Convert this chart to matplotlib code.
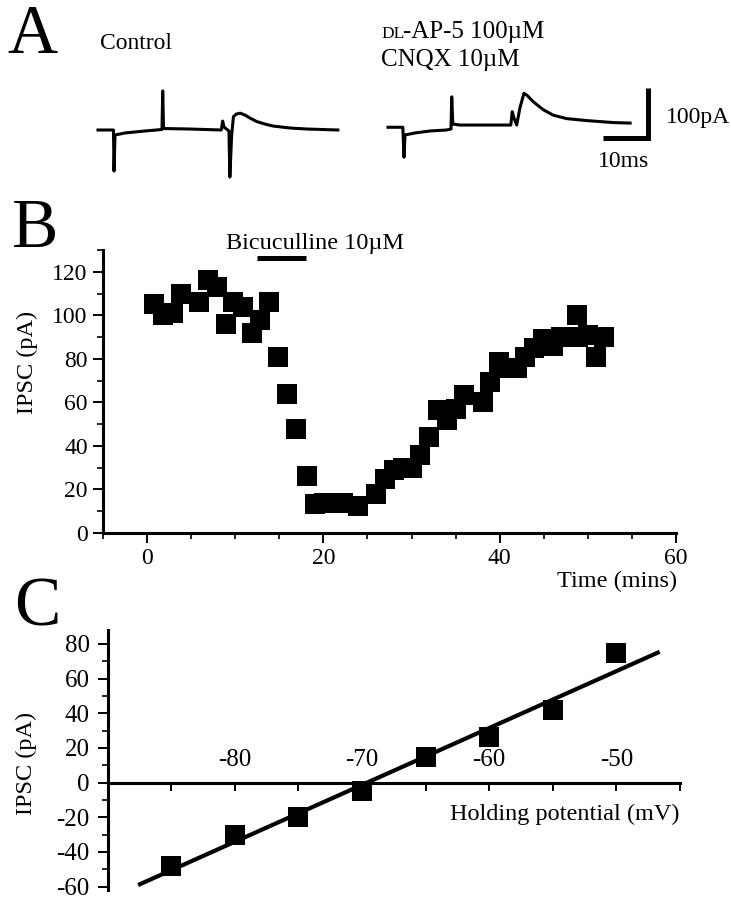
import numpy as np
import matplotlib
matplotlib.use('Agg')
import matplotlib.pyplot as plt

plt.rcParams['font.family'] = ['Liberation Serif', 'DejaVu Serif']
plt.rcParams['axes.unicode_minus'] = False

# ---- panel A: example traces (ms from trace start, pA from baseline) ----
ctrl_t = [0, 3.1, 3.44, 3.56, 3.78, 6.0, 10.4, 14.22, 14.38, 14.56, 20.4, 27.4,
          27.7, 28.0, 29.1, 29.3, 29.7, 30.1, 30.7, 31.6, 32.7, 33.8, 35.3,
          37.1, 38.9, 42.7, 46.4, 53.3]
ctrl_i = [0, 0, 0, -83, -10, -6, -2, 1, 79, 3, 2, 0,
          18, 6, -2, -95, -10, 27, 32, 34, 30, 24, 17,
          12, 8, 4, 2, 0]
drug_t = [0, 3.3, 3.56, 3.78, 6.0, 9.3, 13.0, 14.0, 14.16, 14.4, 16.0, 27.3,
          27.6, 28.0, 28.6, 29.3, 30.2, 30.9, 32.3, 34.5, 36.7, 39.7, 44.2,
          50.1, 53.8]
drug_i = [5.5, 5.5, -55, -10, -6, -2, 0, 2, 67, 12, 10, 10,
          37, 24, 10, 44, 74, 70, 57, 41, 30, 23, 19,
          15, 14]

# ---- panel B: IPSC time course ----
time_min = [0.8, 1.8, 2.9, 3.9, 5.9, 6.9, 7.9, 8.9, 9.7, 10.9, 11.9, 12.8, 13.8,
            14.9, 15.9, 16.9, 18.1, 19.0, 20.1, 21.0, 22.2, 23.9, 26.0, 27.0,
            28.0, 29.0, 30.0, 31.0, 32.0, 33.0, 34.0, 35.0, 36.0, 38.1, 38.9,
            39.9, 41.0, 42.0, 42.9, 43.9, 44.9, 46.0, 47.0, 48.8, 48.9, 50.0,
            50.9, 51.8]
ipsc_pa = [105, 100, 101, 110, 106, 116, 113, 96, 106, 104, 92, 98, 106,
           81, 64, 48, 26, 13.5, 14, 14, 14, 12.5, 18, 25,
           29, 30, 30, 36, 44, 56.5, 52, 57, 63.5, 60, 69.5,
           78.5, 76, 76, 81, 85, 89, 86, 90, 100, 90, 91,
           81, 90]
bic_start, bic_end = 12.5, 18.0

# ---- panel C: I-V relation ----
hold_mv = [-85, -80, -75, -70, -65, -60, -55, -50]
iv_pa = [-48, -30, -20, -4.8, 14.5, 26, 42, 75]

W, H = 731, 899
fig = plt.figure(figsize=(W / 100, H / 100), dpi=100)


def fx(px):
    return px / W


def fy(py):
    return 1 - py / H


# panel A: 4.5 px per ms, 0.495 px per pA
ax_a = fig.add_axes([0, fy(200), 1, 200 / H])
ax_a.axis('off')
ax_a.set_xlim(0, W / 4.5)
ax_a.set_ylim(-(200 - 130) / 0.495, 130 / 0.495)
ax_a.plot(np.array(ctrl_t) + 98 / 4.5, ctrl_i, color='black', lw=2.2,
          solid_joinstyle='round')
ax_a.plot(np.array(drug_t) + 388 / 4.5, drug_i, color='black', lw=2.2,
          solid_joinstyle='round')
# scale bar 10 ms / 100 pA
ax_a.plot([133.9, 143.9, 143.9], [-15.2, -15.2, 84.8], color='black', lw=3.6,
          solid_joinstyle='miter', solid_capstyle='butt')

fig.text(fx(7), fy(53), 'A', fontsize=50, va='baseline')
fig.text(fx(100), fy(49), 'Control', fontsize=17, va='baseline')
fig.text(fx(381), fy(38), 'DL', fontsize=12.5, va='baseline')
fig.text(fx(403), fy(38), '-AP-5 100\u00b5M', fontsize=18, va='baseline')
fig.text(fx(381), fy(66), 'CNQX 10\u00b5M', fontsize=18, va='baseline')
fig.text(fx(666), fy(123), '100pA', fontsize=17, va='baseline')
fig.text(fx(598), fy(167), '10ms', fontsize=17, va='baseline')

# panel B
ax_b = fig.add_axes([fx(103), fy(533), (676 - 103) / W, (533 - 250) / H])
ax_b.plot(time_min, ipsc_pa, 's', color='black', ms=14.4, mew=0)
ax_b.plot([bic_start, bic_end], [126.5, 126.5], color='black', lw=3.6,
          solid_capstyle='butt', clip_on=False)
ax_b.text(8.9, 130.5, 'Bicuculline 10\u00b5M', fontsize=17.5, va='baseline')
ax_b.set_xlim(-5, 60)
ax_b.set_ylim(0, 130)
ax_b.set_xticks([0, 20, 40, 60])
ax_b.set_xticks([-5, 5, 10, 15, 25, 30, 35, 45, 50, 55], minor=True)
ax_b.set_yticks(range(0, 121, 20))
ax_b.set_yticks(range(10, 131, 20), minor=True)
for s in ['top', 'right']:
    ax_b.spines[s].set_visible(False)
for s in ['left', 'bottom']:
    ax_b.spines[s].set_linewidth(2.2)
ax_b.tick_params(which='major', length=7, width=1.4, labelsize=17, pad=4)
ax_b.tick_params(which='minor', length=4, width=1.2)
fig.text(fx(677), fy(587), 'Time (mins)', fontsize=17.5, ha='right', va='baseline')
fig.text(fx(27), fy(362), 'IPSC (pA)', fontsize=17.5, rotation=90, ha='center', va='center')
fig.text(fx(12), fy(247), 'B', fontsize=50, va='baseline')

# panel C
ax_c = fig.add_axes([fx(107.6), fy(890), (680 - 107.6) / W, (890 - 630) / H])
fit = np.polyfit(hold_mv, iv_pa, 1)
fit_x = np.array([-87.6, -46.6])
ax_c.plot(fit_x, np.polyval(fit, fit_x), color='black', lw=3, solid_capstyle='butt')
ax_c.plot(hold_mv, iv_pa, 's', color='black', ms=14.4, mew=0)
ax_c.set_xlim(-90, -45)
ax_c.set_ylim(-62, 88)
ax_c.spines['bottom'].set_visible(False)
ax_c.spines['right'].set_visible(False)
ax_c.spines['top'].set_position(('data', 0))
ax_c.spines['top'].set_linewidth(2.2)
ax_c.spines['left'].set_linewidth(2.2)
ax_c.xaxis.set_ticks_position('top')
ax_c.set_xticks([-80, -70, -60, -50])
ax_c.set_xticks([-85, -75, -65, -55, -45], minor=True)
ax_c.tick_params(axis='x', which='both', direction='in', length=6, width=1.4)
ax_c.tick_params(axis='x', which='major', labelsize=18, pad=8)
ax_c.set_yticks(range(-60, 81, 20))
ax_c.set_yticks(range(-50, 81, 20), minor=True)
ax_c.tick_params(axis='y', which='major', length=7, width=1.4, labelsize=18, pad=6)
ax_c.tick_params(axis='y', which='minor', length=4, width=1.2)
fig.text(fx(680), fy(820), 'Holding potential (mV)', fontsize=17.5, ha='right', va='baseline')
fig.text(fx(26), fy(763), 'IPSC (pA)', fontsize=17.5, rotation=90, ha='center', va='center')
fig.text(fx(14), fy(626), 'C', fontsize=50, va='baseline')

fig.savefig('out.png', dpi=100)
